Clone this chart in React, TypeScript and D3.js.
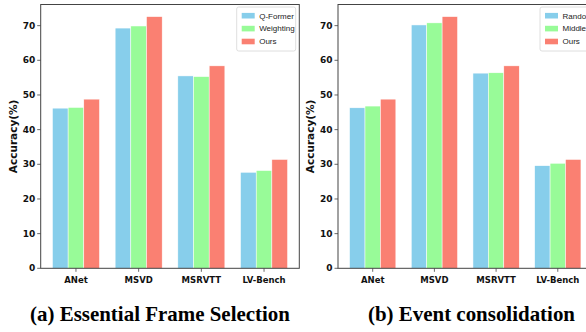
import React from 'react';
import * as d3 from 'd3';

const categories = ['ANet', 'MSVD', 'MSRVTT', 'LV-Bench'];
const yTicks = [0, 10, 20, 30, 40, 50, 60, 70];

const seriesA = ['Q-Former', 'Weighting', 'Ours'];
const qformer = [46.2, 69.3, 55.5, 27.7];
const weighting = [46.4, 69.9, 55.3, 28.2];
const oursA = [48.8, 72.6, 58.4, 31.4];

const seriesB = ['Random', 'Middle', 'Ours'];
const random = [46.3, 70.2, 56.3, 29.6];
const middle = [46.8, 70.8, 56.4, 30.3];
const oursB = [48.8, 72.6, 58.4, 31.4];

const colors = ['#87CEEB', '#98FB98', '#FA8072'];

const titleA = '(a) Essential Frame Selection';
const titleB = '(b) Event consolidation';

const top = 4.5;
const bottom = 268.3;
const barW = 0.25;

type PanelProps = {
  left: number;
  right: number;
  names: string[];
  values: number[][];
  legendX: number;
  title: string;
  titleX: number;
  titleW: number;
};

const Panel = ({ left, right, names, values, legendX, title, titleX, titleW }: PanelProps) => {
  const x = d3.scaleLinear().domain([-0.5625, 3.5625]).range([left, right]);
  const y = d3.scaleLinear().domain([0, 76.1]).range([bottom, top]);
  const pw = x(barW) - x(0);

  return (
    <g>
      {/* bars */}
      {values.map((vals, s) =>
        vals.map((v, i) => (
          <rect
            key={`${s}-${i}`}
            x={x(i + (s - 1) * barW) - pw / 2}
            y={y(v)}
            width={pw}
            height={y(0) - y(v)}
            fill={colors[s]}
            stroke="#fff"
            strokeWidth={0.5}
          />
        ))
      )}
      {/* frame */}
      <rect x={left} y={top} width={right - left} height={bottom - top} fill="none" stroke="#444" strokeWidth={1} />
      {/* y axis */}
      {yTicks.map(t => (
        <g key={t} transform={`translate(${left},${y(t)})`}>
          <line x1={-3.5} x2={0} stroke="#444" strokeWidth={0.8} />
          <text x={-5.5} dy="0.35em" textAnchor="end" fontSize={9} fontWeight="bold" fontFamily="DejaVu Sans, sans-serif" fill="#111">
            {t}
          </text>
        </g>
      ))}
      {/* x axis */}
      {categories.map((c, i) => (
        <g key={c} transform={`translate(${x(i)},${bottom})`}>
          <line y1={0} y2={3.5} stroke="#444" strokeWidth={0.8} />
          <text y={15} textAnchor="middle" fontSize={8.5} fontWeight="bold" fontFamily="DejaVu Sans, sans-serif" fill="#111">
            {c}
          </text>
        </g>
      ))}
      <text
        transform={`translate(${left - 24},${(top + bottom) / 2}) rotate(-90)`}
        textAnchor="middle"
        fontSize={10.5}
        fontWeight="bold"
        fontFamily="DejaVu Sans, sans-serif"
        fill="#111"
      >
        Accuracy(%)
      </text>
      {/* legend */}
      <rect x={legendX} y={7} width={59} height={44} rx={2} fill="#fff" fillOpacity={0.85} stroke="#d5d5d5" strokeWidth={0.8} />
      {names.map((n, s) => (
        <g key={n} transform={`translate(${legendX + 5},${15.7 + s * 12.9})`}>
          <rect x={0} y={-2.8} width={13} height={5.6} fill={colors[s]} />
          <text x={17.5} dy="0.35em" fontSize={8} fontFamily="Liberation Sans, Arial, sans-serif" fill="#222">
            {n}
          </text>
        </g>
      ))}
      <text
        x={titleX}
        y={321}
        textAnchor="middle"
        fontSize={21}
        fontWeight="bold"
        fontFamily="Liberation Serif, Times New Roman, serif"
        textLength={titleW}
        lengthAdjust="spacingAndGlyphs"
        fill="#000"
      >
        {title}
      </text>
    </g>
  );
};

const App = () => (
  <svg width={586} height={332} style={{ position: 'fixed', left: 0, top: 0, background: '#fff' }}>
    <rect width={586} height={332} fill="#fff" />
    <Panel
      left={40.7}
      right={299.3}
      names={seriesA}
      values={[qformer, weighting, oursA]}
      legendX={236.7}
      title={titleA}
      titleX={160}
      titleW={260}
    />
    <Panel
      left={338}
      right={592.5}
      names={seriesB}
      values={[random, middle, oursB]}
      legendX={540}
      title={titleB}
      titleX={471.5}
      titleW={207}
    />
  </svg>
);

export default App;
